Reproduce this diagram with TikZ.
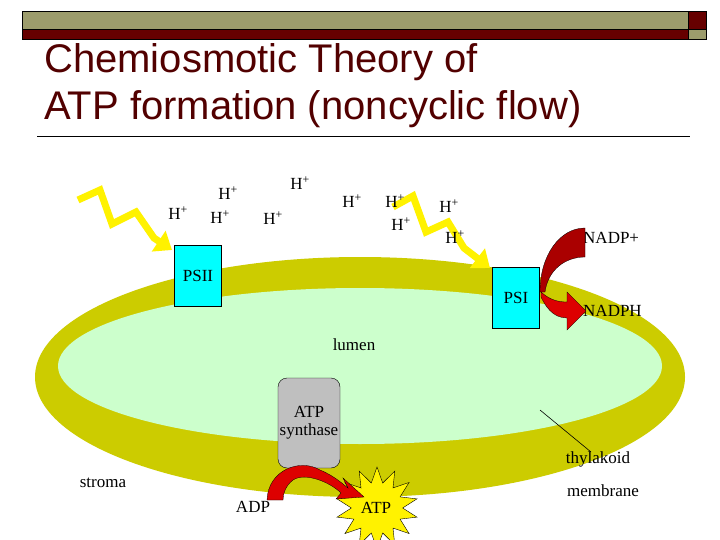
\documentclass[tikz,border=0pt]{standalone}
\usepackage{fontspec}
\setmainfont{Liberation Serif}
\newfontfamily\titlefont{Liberation Sans}
\usetikzlibrary{shapes.geometric,arrows.meta}
\definecolor{olivebar}{HTML}{9C9C6C}
\definecolor{maroon}{HTML}{660000}
\definecolor{ring}{HTML}{CCCC00}
\definecolor{lumenc}{HTML}{CCFFCC}
\definecolor{boxc}{HTML}{00FFFF}
\definecolor{redarrow}{HTML}{DD0000}
\definecolor{darkred}{HTML}{AA0000}
\tikzset{
 lbl/.style={font=\fontsize{17}{19}\selectfont, inner sep=0pt},
 hp/.style={lbl},
 psbox/.style={draw=black, fill=boxc, minimum width=47pt, minimum height=61pt, inner sep=0pt, font=\fontsize{17}{19}\selectfont},
 bolt/.style={draw=yellow, line width=7pt, line join=miter, -{Triangle[length=16pt,width=24pt]}},
}
\begin{document}
\begin{tikzpicture}[x=1pt,y=-1pt]
\useasboundingbox (0,0) rectangle (720,540);
\fill[white] (0,0) rectangle (720,540);
% header bar
\draw[fill=olivebar, line width=1pt] (22,12) rectangle (688,30);
\draw[fill=maroon, line width=1pt] (22,30) rectangle (688,40);
\draw[fill=maroon, line width=1pt] (688,12) rectangle (706,30);
\draw[fill=olivebar, line width=1pt] (688,30) rectangle (706,40);
\node[anchor=west, text=maroon!80!black, font=\titlefont\fontsize{40}{47}\selectfont, align=left, inner sep=0pt] (title) at (44,86) {Chemiosmotic Theory of\\ATP formation (noncyclic flow)};
\draw[line width=1pt] (37,137) -- (690,137);
% membrane
\fill[ring] (360,377) ellipse [x radius=325, y radius=120];
\fill[lumenc] (360,366) ellipse [x radius=302, y radius=78];
\node[lbl] (lumen) at (354,345) {lumen};
% bolts
\coordinate (b1) at (78,200);
\draw[bolt] (b1) -- (100,190) -- (112,224) -- (136,212) -- (154,238) -- (172,250);
\coordinate (b2) at (393,207);
\draw[bolt] (b2) -- (413,196) -- (426,232) -- (448,222) -- (464,248) -- (490,268);
% boxes
\node[psbox] (psii) at (198,276) {PSII};
\node[psbox] (psi) at (516,298) {PSI};
% H+
\foreach \x/\y/\n in {178/213/h1,228/193/h2,220/217/h3,273/218/h4,300/183/h5,352/201/h6,395/201/h7,401/224/h8,449/206/h9,455/237/h10}
  \node[hp] (\n) at (\x,\y) {H\textsuperscript{+}};
% NADP arrows
\node[lbl, anchor=west] (nadp) at (583,238) {NADP+};
\node[lbl, anchor=west] (nadph) at (583,311) {NADPH};
\fill[darkred, draw=black, line width=0.3pt] (540,292) .. controls (540,255) and (560,228) .. (585,228) -- (585,257) .. controls (565,257) and (548,270) .. (545,292) -- cycle;
\fill[redarrow, draw=black, line width=0.3pt] (541,292) .. controls (550,300) and (558,302) .. (567,302) -- (567,292) -- (586,311) -- (567,330) -- (567,318) .. controls (552,318) and (545,305) .. (541,297) -- cycle;
% thylakoid pointer
\node[lbl] (thy) at (598,459) {thylakoid};
\node[lbl] (mem) at (603,491) {membrane};
\coordinate (tp) at (540,410);
\draw[line width=0.6pt] (tp) -- (591,452);
\node[lbl] (stroma) at (103,483) {stroma};
% ATP synthase
\node[draw=black, fill=black!25, rounded corners=9pt, minimum width=62pt, minimum height=90pt, align=center, font=\fontsize{17}{18}\selectfont, inner sep=0pt] (syn) at (309,423) {ATP\\synthase};
% ATP star
\node[star, star points=14, star point ratio=1.6, draw=black, fill=yellow, minimum size=82pt, inner sep=0pt] (star) at (377,508) {};
\node[lbl] (atp) at (376,508) {ATP};
\node[lbl] (adp) at (253,507) {ADP};
% ADP->ATP arc
\fill[redarrow, draw=black, line width=0.3pt] (267,500) .. controls (268,470) and (300,458) .. (320,470) .. controls (335,476) and (345,486) .. (348,488) -- (343,478) -- (364,497) -- (336,499) -- (341,493) .. controls (330,482) and (305,472) .. (293,480) .. controls (285,486) and (283,495) .. (283,500) -- cycle;
\end{tikzpicture}
\end{document}
